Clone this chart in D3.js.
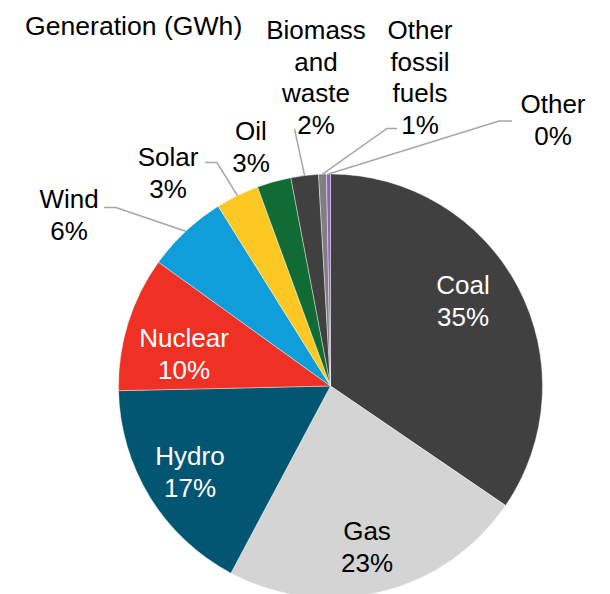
<!DOCTYPE html>
<html>
<head>
<meta charset="utf-8">
<script src="https://cdn.jsdelivr.net/npm/d3@7"></script>
<style>
  html, body { margin: 0; padding: 0; background: #fff; }
  svg { display: block; }
  text { font-family: "Liberation Sans", Arial, sans-serif; }
</style>
</head>
<body>
<svg id="chart" width="610" height="594"></svg>
<script>
// ---- Data ----
const title = "Generation (GWh)";
const categories = ["Coal", "Gas", "Hydro", "Nuclear", "Wind", "Solar", "Oil", "Biomass and waste", "Other fossil fuels", "Other"];
const shares = [34.6, 23.3, 16.9, 10.3, 6.2, 3.3, 2.6, 2.1, 0.6, 0.3];
const colors = ["#404040", "#d4d4d4", "#035671", "#ee3124", "#0f9ed9", "#fec824", "#116b34", "#404040", "#7f7f7f", "#9060c0"];

// ---- Layout (positions only) ----
const W = 610, H = 594;
const cx = 330.5, cy = 386, R = 212;
const fontSize = 26, lineH = 31.5;
const labelLayout = {
  "Coal":               { x: 463, y: 285, fill: "#fff" },
  "Gas":                { x: 367, y: 531, fill: "#000" },
  "Hydro":              { x: 190, y: 456, fill: "#fff" },
  "Nuclear":            { x: 184, y: 338, fill: "#fff" },
  "Wind":               { x: 69,  y: 199, fill: "#000", leader: [[104, 207.5], [116, 207.5]] },
  "Solar":              { x: 168, y: 157, fill: "#000", leader: [[205, 162.5], [217, 162.5]] },
  "Oil":                { x: 251, y: 131, fill: "#000" },
  "Biomass and waste":  { x: 316, y: 30,  fill: "#000", lines: ["Biomass", "and", "waste"], leader: [[294.5, 129]] },
  "Other fossil fuels": { x: 420, y: 30,  fill: "#000", lines: ["Other", "fossil", "fuels"], leader: [[397, 128.5], [387, 128.5]] },
  "Other":              { x: 553, y: 104, fill: "#000", leader: [[512, 121], [499, 121]] }
};

const data = categories.map((c, i) => ({ name: c, value: shares[i], color: colors[i] }));
const total = d3.sum(shares);

const svg = d3.select("#chart");

const pie = d3.pie().sort(null).value(d => d.value).startAngle(0).endAngle(2 * Math.PI);
const arcs = pie(data);
const arc = d3.arc().innerRadius(0).outerRadius(R);
const edgeArc = d3.arc().innerRadius(R).outerRadius(R);

const g = svg.append("g").attr("transform", `translate(${cx},${cy})`);
g.selectAll("path.slice")
  .data(arcs)
  .join("path")
  .attr("class", "slice")
  .attr("d", arc)
  .attr("fill", d => d.data.color)
  .attr("stroke", "#fff")
  .attr("stroke-width", 0.4);

// leader lines
arcs.forEach(a => {
  const L = labelLayout[a.data.name];
  if (!L.leader) return;
  const c = edgeArc.centroid(a);
  const pts = L.leader.concat([[c[0] + cx, c[1] + cy]]);
  svg.append("path")
    .attr("d", d3.line()(pts))
    .attr("fill", "none")
    .attr("stroke", "#a6a6a6")
    .attr("stroke-width", 1.5);
});

// labels
arcs.forEach(a => {
  const L = labelLayout[a.data.name];
  const pct = Math.round(a.data.value / total * 100) + "%";
  const lines = (L.lines || [a.data.name]).concat([pct]);
  const t = svg.append("text")
    .attr("text-anchor", "middle")
    .attr("font-size", fontSize)
    .attr("fill", L.fill);
  lines.forEach((ln, i) => {
    t.append("tspan")
      .attr("x", L.x)
      .attr("y", L.y + i * lineH)
      .attr("dy", "0.35em")
      .text(ln);
  });
});

// title
svg.append("text")
  .attr("x", 25)
  .attr("y", 35)
  .attr("font-size", 26.6)
  .attr("fill", "#000")
  .text(title);
</script>
</body>
</html>
